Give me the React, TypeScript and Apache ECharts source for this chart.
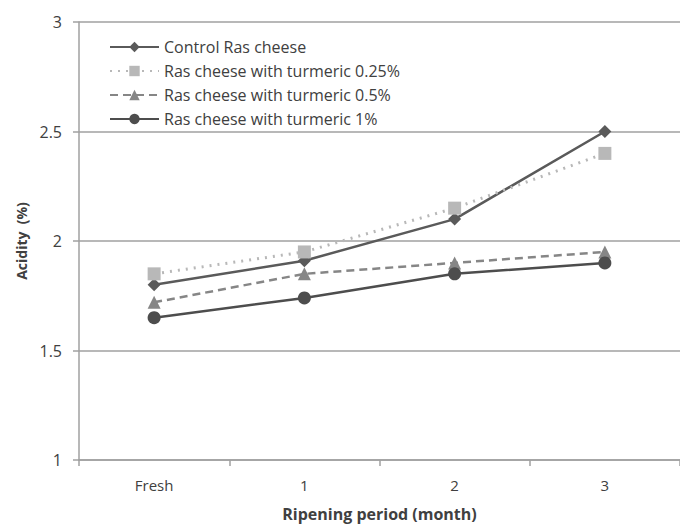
import React, { useEffect, useRef } from "react";
import * as echarts from "echarts";

const categories = ["Fresh", "1", "2", "3"];
const seriesNames = [
  "Control Ras cheese",
  "Ras cheese with turmeric 0.25%",
  "Ras cheese with turmeric 0.5%",
  "Ras cheese with turmeric 1%",
];
const control = [1.8, 1.91, 2.1, 2.5];
const turmeric025 = [1.85, 1.95, 2.15, 2.4];
const turmeric05 = [1.72, 1.85, 1.9, 1.95];
const turmeric1 = [1.65, 1.74, 1.85, 1.9];

const FONT = "Open Sans";
const TEXT = "#404040";
const AXIS = "#a0a0a0";

export default function App() {
  const ref = useRef<HTMLDivElement>(null);
  useEffect(() => {
    if (!ref.current) return;
    const chart = echarts.init(ref.current, undefined, { renderer: "svg" });
    const mk = (
      name: string,
      data: number[],
      color: string,
      type: any,
      symbol: string,
      symbolSize: number,
      width: number
    ) => ({
      name,
      type: "line",
      data,
      symbol,
      symbolSize,
      showAllSymbol: true,
      itemStyle: { color, borderWidth: 0 },
      lineStyle: { color, width, type },
      emphasis: { disabled: true },
    });
    chart.setOption({
      animation: false,
      backgroundColor: "#ffffff",
      textStyle: { fontFamily: FONT, color: TEXT },
      grid: { left: 79, top: 22, width: 612, height: 440, containLabel: false },
      legend: {
        orient: "vertical",
        left: 104,
        top: 33,
        itemWidth: 49,
        itemHeight: 13,
        itemGap: 6,
        textStyle: { fontFamily: FONT, fontSize: 16, color: TEXT, lineHeight: 18 },
        data: seriesNames,
      },
      xAxis: {
        type: "category",
        data: categories,
        boundaryGap: true,
        axisLine: { lineStyle: { color: AXIS, width: 1.5 } },
        axisTick: { show: true, length: 6, lineStyle: { color: AXIS, width: 1.5 } },
        axisLabel: { fontFamily: FONT, fontSize: 15, color: TEXT, margin: 17 },
        name: "Ripening period (month)",
        nameLocation: "middle",
        nameGap: 46,
        nameTextStyle: { fontFamily: FONT, fontSize: 16, fontWeight: "bold", color: TEXT },
      },
      yAxis: {
        type: "value",
        min: 1,
        max: 3,
        interval: 0.5,
        axisLine: { show: true, lineStyle: { color: AXIS, width: 1.5 } },
        axisTick: { show: true, length: 6, lineStyle: { color: AXIS, width: 1.5 } },
        axisLabel: { fontFamily: FONT, fontSize: 16, color: TEXT, margin: 17 },
        splitLine: { show: true, lineStyle: { color: AXIS, width: 1.5 } },
        name: "Acidity  (%)",
        nameLocation: "middle",
        nameGap: 48,
        nameTextStyle: { fontFamily: FONT, fontSize: 14, fontWeight: "bold", color: TEXT },
      },
      series: [
        mk(seriesNames[0], control, "#5a5a5a", "solid", "diamond", 13, 2.5),
        mk(seriesNames[1], turmeric025, "#b8b8b8", [2, 6], "rect", 13, 3),
        mk(seriesNames[2], turmeric05, "#868686", [8, 5], "triangle", 13, 2.5),
        mk(seriesNames[3], turmeric1, "#4d4d4d", "solid", "circle", 13, 2.5),
      ],
    });
    return () => chart.dispose();
  }, []);
  return (
    <div
      ref={ref}
      style={{ position: "fixed", left: 0, top: 0, width: 680, height: 527 }}
    />
  );
}
